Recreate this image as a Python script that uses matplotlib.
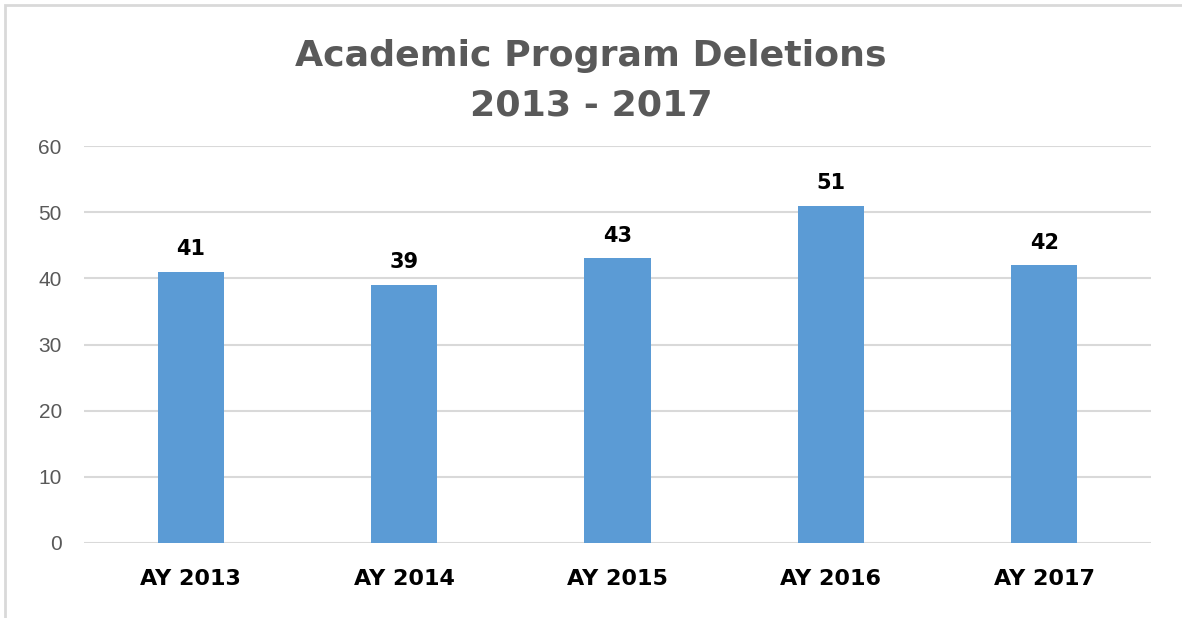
import matplotlib.pyplot as plt
from matplotlib.patches import Rectangle

categories = ["AY 2013", "AY 2014", "AY 2015", "AY 2016", "AY 2017"]
deletions = [41, 39, 43, 51, 42]
y_ticks = [0, 10, 20, 30, 40, 50, 60]

BAR_COLOR = "#5B9BD5"
GRID_COLOR = "#D9D9D9"
TEXT_GRAY = "#595959"
HEAVY = ["DejaVu Sans"]

plt.rcParams["font.family"] = ["Liberation Sans", "DejaVu Sans"]

fig = plt.figure(figsize=(11.82, 6.18), dpi=100)
ax = fig.add_axes([84 / 1182, 1 - 543 / 618, (1151 - 84) / 1182, (543 - 146) / 618])

x = list(range(len(categories)))
ax.bar(x, deletions, width=0.31, color=BAR_COLOR, zorder=3)

for xi, v in zip(x, deletions):
    ax.annotate(str(v), (xi, v), xytext=(0, 9), textcoords="offset points",
                ha="center", va="bottom", fontsize=15, fontweight="bold",
                color="black", family=HEAVY)

ax.set_xlim(-0.5, len(categories) - 0.5)
ax.set_ylim(0, 60)
ax.set_yticks(y_ticks)
ax.set_yticklabels([str(t) for t in y_ticks], fontsize=15, color=TEXT_GRAY)
ax.set_xticks(x)
ax.set_xticklabels(categories, fontsize=16, fontweight="bold", color="black", family=HEAVY)
ax.tick_params(axis="both", length=0)
ax.tick_params(axis="y", pad=16)
ax.tick_params(axis="x", pad=19)

ax.grid(axis="y", color=GRID_COLOR, linewidth=1.5, zorder=0)
for s in ax.spines.values():
    s.set_visible(False)

fig.text(0.5, 1 - 56 / 618, "Academic Program Deletions", ha="center", va="center",
         fontsize=26.2, fontweight="bold", color=TEXT_GRAY, family=HEAVY)
fig.text(0.5, 1 - 106 / 618, "2013 - 2017", ha="center", va="center",
         fontsize=26.2, fontweight="bold", color=TEXT_GRAY, family=HEAVY)

# chart frame: only left and top edges fall inside the image
fig.patches.append(Rectangle((5 / 1182, -0.01), 1.0, 1 - 5 / 618 + 0.01,
                             transform=fig.transFigure, fill=False,
                             edgecolor=GRID_COLOR, linewidth=2))

fig.savefig("out.png", dpi=100)
